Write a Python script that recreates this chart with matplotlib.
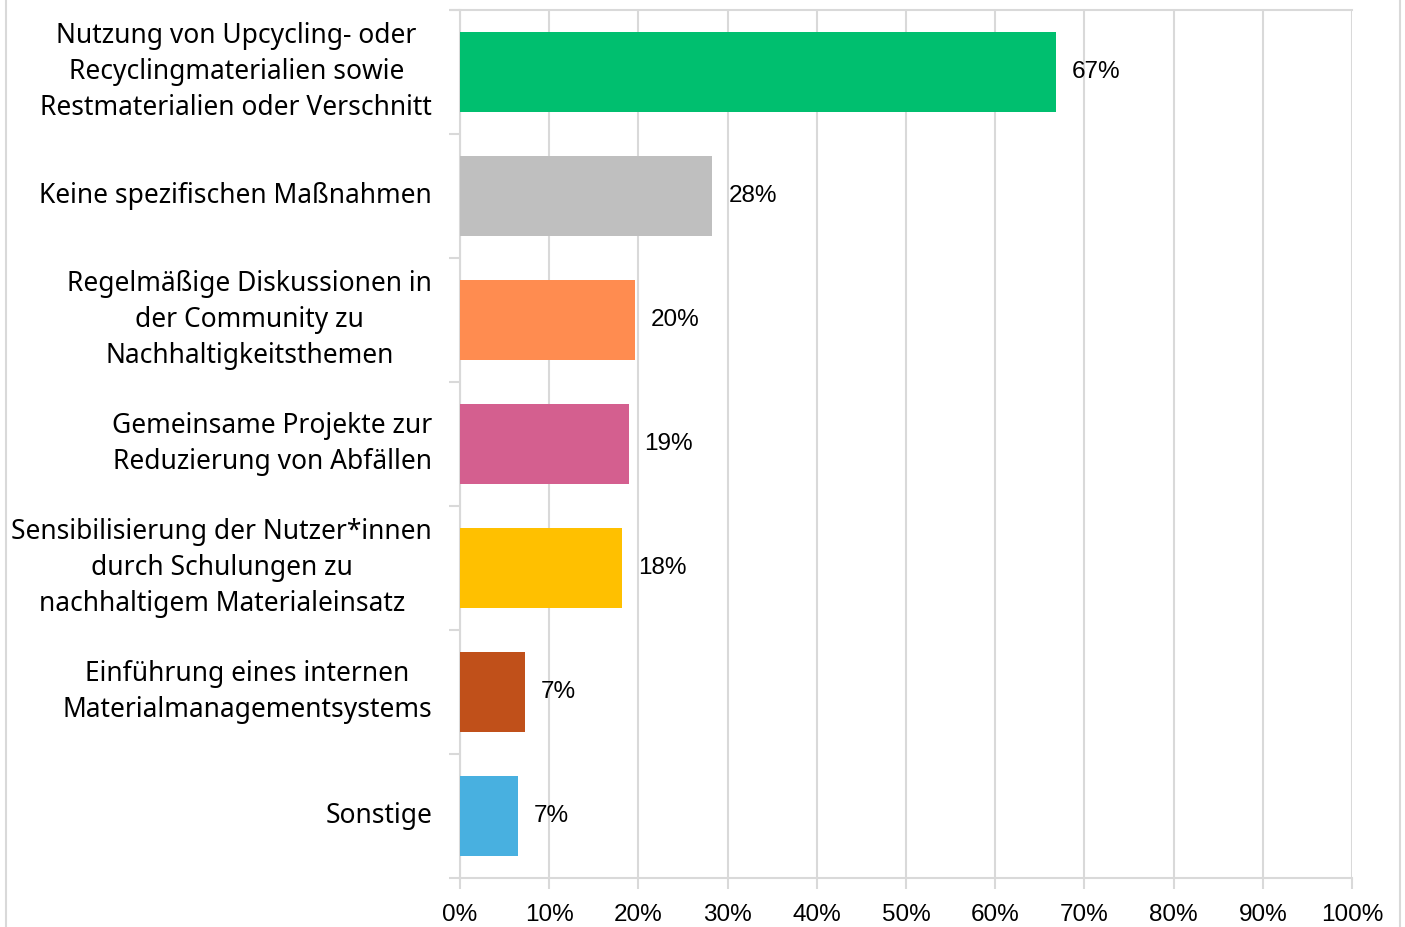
import matplotlib
matplotlib.use("Agg")
import matplotlib.pyplot as plt
from matplotlib.lines import Line2D
import numpy as np

categories = [
    "Nutzung von Upcycling- oder\nRecyclingmaterialien sowie\nRestmaterialien oder Verschnitt",
    "Keine spezifischen Maßnahmen",
    "Regelmäßige Diskussionen in\nder Community zu\nNachhaltigkeitsthemen",
    "Gemeinsame Projekte zur\nReduzierung von Abfällen",
    "Sensibilisierung der Nutzer*innen\ndurch Schulungen zu\nnachhaltigem Materialeinsatz",
    "Einführung eines internen\nMaterialmanagementsystems",
    "Sonstige",
]
values = [66.8, 28.3, 19.6, 18.9, 18.2, 7.3, 6.5]
labels = ["67%", "28%", "20%", "19%", "18%", "7%", "7%"]
colors = ["#00BF6F", "#BFBFBF", "#FF8C50", "#D45F8F", "#FFC000", "#C0501A", "#48B0E0"]
xticks = list(range(0, 101, 10))
xticklabels = [f"{t}%" for t in xticks]

W, H = 1405, 927
fig = plt.figure(figsize=(W / 100, H / 100), dpi=100)
ax = fig.add_axes([460 / W, 1 - 878 / H, (1352 - 460) / W, (878 - 10) / H])

n = len(categories)
y = np.arange(n)
ax.barh(y, values, height=0.645, color=colors, zorder=3)
ax.set_ylim(n - 0.5, -0.5)
ax.set_xlim(0, 100)

grid_c = "#D9D9D9"
ax.set_xticks(xticks)
ax.set_xticklabels(xticklabels, fontsize=17.5, family="Liberation Sans", color="#000000")
ax.tick_params(axis="x", length=8, width=1.5, color=grid_c, pad=11)
ax.xaxis.grid(True, color=grid_c, linewidth=1.5, zorder=0)

ax.set_yticks(y)
ax.set_yticklabels(categories, fontsize=19, family="Noto Sans", ha="right", va="center",
                   multialignment="center", linespacing=1.4)
ax.tick_params(axis="y", which="major", length=0, pad=20)
ax.set_yticks(np.arange(-0.5, n, 1.0), minor=True)
ax.tick_params(axis="y", which="minor", length=8, width=1.5, color=grid_c)

ax.spines["right"].set_visible(False)
for s in ["left", "bottom", "top"]:
    ax.spines[s].set_color(grid_c)
    ax.spines[s].set_linewidth(1.5)
ax.spines["top"].set_bounds(-1, 100)

for yi, v, lab in zip(y, values, labels):
    ax.annotate(lab, xy=(v, yi), xytext=(11.5, 0), textcoords="offset points",
                va="center", ha="left", fontsize=17.5, family="Liberation Sans", zorder=4)

# chart area border (left/right)
fig.add_artist(Line2D([5.5 / W, 5.5 / W], [0, 1], color=grid_c, linewidth=1.5))
fig.add_artist(Line2D([1399.5 / W, 1399.5 / W], [0, 1], color=grid_c, linewidth=1.5))

fig.savefig("out.png", dpi=100, facecolor="white")
